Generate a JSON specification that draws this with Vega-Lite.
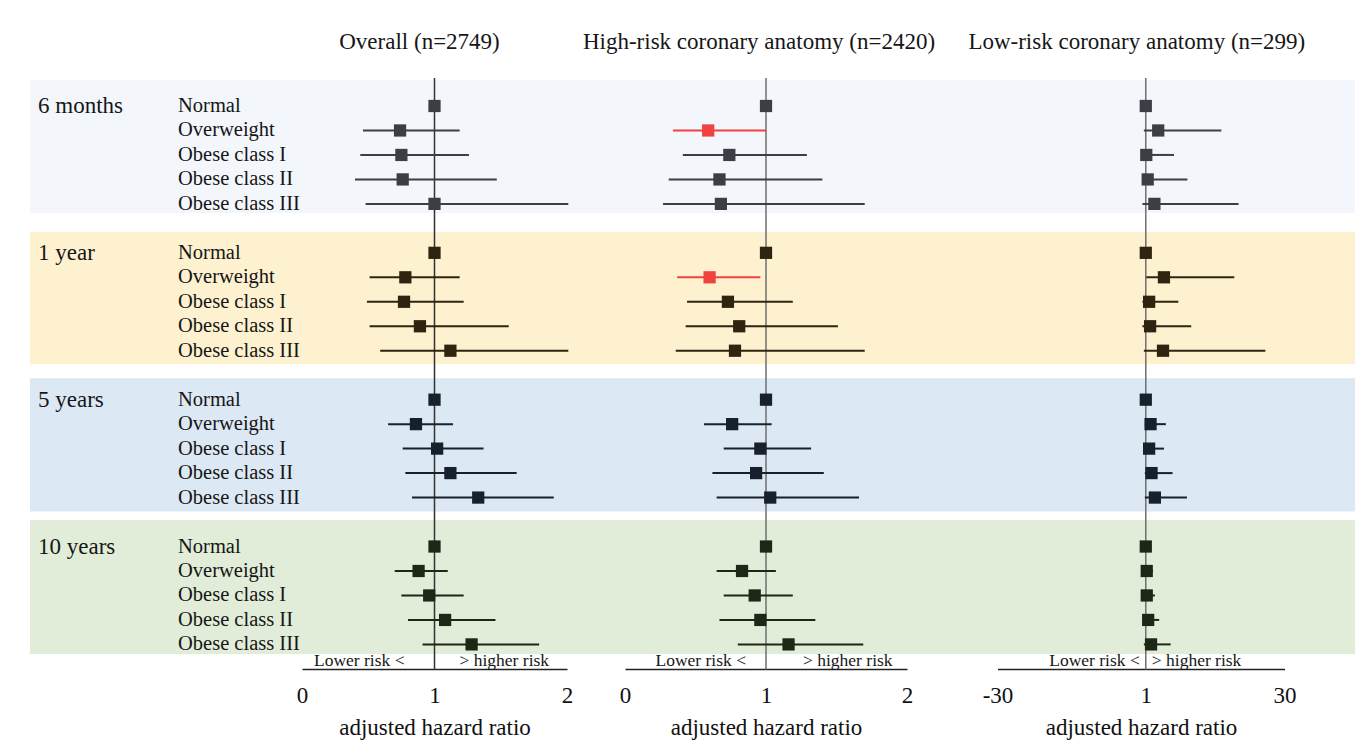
{
  "$schema": "https://vega.github.io/schema/vega-lite/v6.json",
  "width": 1325,
  "height": 669,
  "autosize": {"type": "none"},
  "padding": {"left": 30, "top": 0, "right": 6, "bottom": 84},
  "background": "white",
  "config": {"view": {"stroke": null}, "font": "Liberation Serif", "text": {"font": "Liberation Serif", "color": "#161616"}},
  "data": {"values": [
    {"panel": "Overall", "group": "6 months", "cat": "Normal", "hr": 1, "lo": 1, "hi": 1},
    {"panel": "Overall", "group": "6 months", "cat": "Overweight", "hr": 0.74, "lo": 0.46, "hi": 1.19},
    {"panel": "Overall", "group": "6 months", "cat": "Obese class I", "hr": 0.75, "lo": 0.44, "hi": 1.26},
    {"panel": "Overall", "group": "6 months", "cat": "Obese class II", "hr": 0.76, "lo": 0.40, "hi": 1.47},
    {"panel": "Overall", "group": "6 months", "cat": "Obese class III", "hr": 1.00, "lo": 0.48, "hi": 2.01},
    {"panel": "Overall", "group": "1 year", "cat": "Normal", "hr": 1, "lo": 1, "hi": 1},
    {"panel": "Overall", "group": "1 year", "cat": "Overweight", "hr": 0.78, "lo": 0.51, "hi": 1.19},
    {"panel": "Overall", "group": "1 year", "cat": "Obese class I", "hr": 0.77, "lo": 0.49, "hi": 1.22},
    {"panel": "Overall", "group": "1 year", "cat": "Obese class II", "hr": 0.89, "lo": 0.51, "hi": 1.56},
    {"panel": "Overall", "group": "1 year", "cat": "Obese class III", "hr": 1.12, "lo": 0.59, "hi": 2.01},
    {"panel": "Overall", "group": "5 years", "cat": "Normal", "hr": 1, "lo": 1, "hi": 1},
    {"panel": "Overall", "group": "5 years", "cat": "Overweight", "hr": 0.86, "lo": 0.65, "hi": 1.14},
    {"panel": "Overall", "group": "5 years", "cat": "Obese class I", "hr": 1.02, "lo": 0.76, "hi": 1.37},
    {"panel": "Overall", "group": "5 years", "cat": "Obese class II", "hr": 1.12, "lo": 0.78, "hi": 1.62},
    {"panel": "Overall", "group": "5 years", "cat": "Obese class III", "hr": 1.33, "lo": 0.83, "hi": 1.90},
    {"panel": "Overall", "group": "10 years", "cat": "Normal", "hr": 1, "lo": 1, "hi": 1},
    {"panel": "Overall", "group": "10 years", "cat": "Overweight", "hr": 0.88, "lo": 0.70, "hi": 1.10},
    {"panel": "Overall", "group": "10 years", "cat": "Obese class I", "hr": 0.96, "lo": 0.75, "hi": 1.22},
    {"panel": "Overall", "group": "10 years", "cat": "Obese class II", "hr": 1.08, "lo": 0.80, "hi": 1.46},
    {"panel": "Overall", "group": "10 years", "cat": "Obese class III", "hr": 1.28, "lo": 0.91, "hi": 1.79},
    {"panel": "High", "group": "6 months", "cat": "Normal", "hr": 1, "lo": 1, "hi": 1},
    {"panel": "High", "group": "6 months", "cat": "Overweight", "hr": 0.59, "lo": 0.34, "hi": 1.00, "sig": true},
    {"panel": "High", "group": "6 months", "cat": "Obese class I", "hr": 0.74, "lo": 0.41, "hi": 1.29},
    {"panel": "High", "group": "6 months", "cat": "Obese class II", "hr": 0.67, "lo": 0.31, "hi": 1.40},
    {"panel": "High", "group": "6 months", "cat": "Obese class III", "hr": 0.68, "lo": 0.27, "hi": 1.70},
    {"panel": "High", "group": "1 year", "cat": "Normal", "hr": 1, "lo": 1, "hi": 1},
    {"panel": "High", "group": "1 year", "cat": "Overweight", "hr": 0.60, "lo": 0.37, "hi": 0.96, "sig": true},
    {"panel": "High", "group": "1 year", "cat": "Obese class I", "hr": 0.73, "lo": 0.44, "hi": 1.19},
    {"panel": "High", "group": "1 year", "cat": "Obese class II", "hr": 0.81, "lo": 0.43, "hi": 1.51},
    {"panel": "High", "group": "1 year", "cat": "Obese class III", "hr": 0.78, "lo": 0.36, "hi": 1.70},
    {"panel": "High", "group": "5 years", "cat": "Normal", "hr": 1, "lo": 1, "hi": 1},
    {"panel": "High", "group": "5 years", "cat": "Overweight", "hr": 0.76, "lo": 0.56, "hi": 1.04},
    {"panel": "High", "group": "5 years", "cat": "Obese class I", "hr": 0.96, "lo": 0.70, "hi": 1.32},
    {"panel": "High", "group": "5 years", "cat": "Obese class II", "hr": 0.93, "lo": 0.62, "hi": 1.41},
    {"panel": "High", "group": "5 years", "cat": "Obese class III", "hr": 1.03, "lo": 0.65, "hi": 1.66},
    {"panel": "High", "group": "10 years", "cat": "Normal", "hr": 1, "lo": 1, "hi": 1},
    {"panel": "High", "group": "10 years", "cat": "Overweight", "hr": 0.83, "lo": 0.65, "hi": 1.07},
    {"panel": "High", "group": "10 years", "cat": "Obese class I", "hr": 0.92, "lo": 0.70, "hi": 1.19},
    {"panel": "High", "group": "10 years", "cat": "Obese class II", "hr": 0.96, "lo": 0.67, "hi": 1.35},
    {"panel": "High", "group": "10 years", "cat": "Obese class III", "hr": 1.16, "lo": 0.80, "hi": 1.69},
    {"panel": "Low", "group": "6 months", "cat": "Normal", "hr": 1, "lo": 1, "hi": 1},
    {"panel": "Low", "group": "6 months", "cat": "Overweight", "hr": 3.6, "lo": 0.6, "hi": 16.8},
    {"panel": "Low", "group": "6 months", "cat": "Obese class I", "hr": 1.1, "lo": 0.9, "hi": 6.9},
    {"panel": "Low", "group": "6 months", "cat": "Obese class II", "hr": 1.4, "lo": 0.3, "hi": 9.7},
    {"panel": "Low", "group": "6 months", "cat": "Obese class III", "hr": 2.8, "lo": 0.3, "hi": 20.4},
    {"panel": "Low", "group": "1 year", "cat": "Normal", "hr": 1, "lo": 1, "hi": 1},
    {"panel": "Low", "group": "1 year", "cat": "Overweight", "hr": 4.8, "lo": 1.1, "hi": 19.5},
    {"panel": "Low", "group": "1 year", "cat": "Obese class I", "hr": 1.7, "lo": 0.3, "hi": 7.8},
    {"panel": "Low", "group": "1 year", "cat": "Obese class II", "hr": 1.9, "lo": 0.3, "hi": 10.5},
    {"panel": "Low", "group": "1 year", "cat": "Obese class III", "hr": 4.6, "lo": 0.6, "hi": 26.0},
    {"panel": "Low", "group": "5 years", "cat": "Normal", "hr": 1, "lo": 1, "hi": 1},
    {"panel": "Low", "group": "5 years", "cat": "Overweight", "hr": 2.0, "lo": 0.8, "hi": 5.2},
    {"panel": "Low", "group": "5 years", "cat": "Obese class I", "hr": 1.7, "lo": 0.6, "hi": 4.8},
    {"panel": "Low", "group": "5 years", "cat": "Obese class II", "hr": 2.2, "lo": 0.8, "hi": 6.6},
    {"panel": "Low", "group": "5 years", "cat": "Obese class III", "hr": 2.9, "lo": 0.8, "hi": 9.6},
    {"panel": "Low", "group": "10 years", "cat": "Normal", "hr": 1, "lo": 1, "hi": 1},
    {"panel": "Low", "group": "10 years", "cat": "Overweight", "hr": 1.2, "lo": 0.9, "hi": 2.5},
    {"panel": "Low", "group": "10 years", "cat": "Obese class I", "hr": 1.2, "lo": 0.9, "hi": 2.9},
    {"panel": "Low", "group": "10 years", "cat": "Obese class II", "hr": 1.5, "lo": 0.9, "hi": 3.8},
    {"panel": "Low", "group": "10 years", "cat": "Obese class III", "hr": 2.1, "lo": 0.6, "hi": 6.2}
  ]},
  "transform": [{"calculate": "datum.group + '|' + datum.cat", "as": "row"}],
  "layer": [
    {
      "data": {"values": [
        {"group": "6 months", "first": "6 months|Normal", "last": "6 months|Obese class III"},
        {"group": "1 year", "first": "1 year|Normal", "last": "1 year|Obese class III"},
        {"group": "5 years", "first": "5 years|Normal", "last": "5 years|Obese class III"},
        {"group": "10 years", "first": "10 years|Normal", "last": "10 years|Obese class III"}
      ]},
      "encoding": {
        "y": {"field": "first", "type": "nominal", "axis": null, "scale": {"type": "point", "padding": 0, "range": [106, 644.4], "domain": ["6 months|Normal", "6 months|Overweight", "6 months|Obese class I", "6 months|Obese class II", "6 months|Obese class III", "gap1", "1 year|Normal", "1 year|Overweight", "1 year|Obese class I", "1 year|Obese class II", "1 year|Obese class III", "gap2", "5 years|Normal", "5 years|Overweight", "5 years|Obese class I", "5 years|Obese class II", "5 years|Obese class III", "gap3", "10 years|Normal", "10 years|Overweight", "10 years|Obese class I", "10 years|Obese class II", "10 years|Obese class III"]}},
        "y2": {"field": "last"},
        "color": {"field": "group", "type": "nominal", "legend": null, "scale": {"domain": ["6 months", "1 year", "5 years", "10 years"], "range": ["#f3f6fb", "#fef1cf", "#dde8f5", "#e1edd9"]}}
      },
      "layer": [
        {"transform": [{"filter": "datum.group === '6 months'"}], "mark": {"type": "rect", "yOffset": -26, "y2Offset": 9}},
        {"transform": [{"filter": "datum.group === '1 year'"}], "mark": {"type": "rect", "yOffset": -21, "y2Offset": 13.5}},
        {"transform": [{"filter": "datum.group === '5 years'"}], "mark": {"type": "rect", "yOffset": -21.5, "y2Offset": 14}},
        {"transform": [{"filter": "datum.group === '10 years'"}], "mark": {"type": "rect", "yOffset": -26.5, "y2Offset": 9.6}}
      ]
    },
    {
      "transform": [{"filter": "datum.panel === 'Overall'"}],
      "encoding": {
        "y": {"field": "row", "type": "nominal", "axis": null, "scale": {"type": "point", "padding": 0, "range": [106, 644.4], "domain": ["6 months|Normal", "6 months|Overweight", "6 months|Obese class I", "6 months|Obese class II", "6 months|Obese class III", "gap1", "1 year|Normal", "1 year|Overweight", "1 year|Obese class I", "1 year|Obese class II", "1 year|Obese class III", "gap2", "5 years|Normal", "5 years|Overweight", "5 years|Obese class I", "5 years|Obese class II", "5 years|Obese class III", "gap3", "10 years|Normal", "10 years|Overweight", "10 years|Obese class I", "10 years|Obese class II", "10 years|Obese class III"]}}
      },
      "layer": [
        {"mark": {"type": "text", "align": "left", "baseline": "middle", "fontSize": 20.5}, "encoding": {"x": {"datum": "cat", "type": "nominal", "axis": null, "scale": {"type": "point", "domain": ["time", "cat"], "range": [8, 148], "padding": 0}}, "text": {"field": "cat"}}},
        {"transform": [{"filter": "datum.cat === 'Normal'"}], "mark": {"type": "text", "align": "left", "baseline": "middle", "fontSize": 23, "dy": 0}, "encoding": {"x": {"datum": "time", "type": "nominal", "axis": null, "scale": {"type": "point", "domain": ["time", "cat"], "range": [8, 148], "padding": 0}}, "text": {"field": "group"}}}
      ]
    },
    {
      "encoding": {
        "x": {"type": "quantitative", "scale": {"domain": [0, 2], "range": [272, 537], "nice": false, "zero": false}, "axis": {"orient": "bottom", "values": [0, 1, 2], "labelExpr": "datum.value + ''", "title": "adjusted hazard ratio", "ticks": false, "grid": false, "domainColor": "#222", "domainWidth": 1.3, "labelFontSize": 23, "labelFont": "Liberation Serif", "labelColor": "#111", "labelPadding": 15, "labelFlush": false, "labelOverlap": false, "labelBound": false, "titleFont": "Liberation Serif", "titleFontSize": 23, "titleFontWeight": "normal", "titleColor": "#111", "titlePadding": 9}},
        "y": {"type": "nominal", "axis": null, "scale": {"type": "point", "padding": 0, "range": [106, 644.4], "domain": ["6 months|Normal", "6 months|Overweight", "6 months|Obese class I", "6 months|Obese class II", "6 months|Obese class III", "gap1", "1 year|Normal", "1 year|Overweight", "1 year|Obese class I", "1 year|Obese class II", "1 year|Obese class III", "gap2", "5 years|Normal", "5 years|Overweight", "5 years|Obese class I", "5 years|Obese class II", "5 years|Obese class III", "gap3", "10 years|Normal", "10 years|Overweight", "10 years|Obese class I", "10 years|Obese class II", "10 years|Obese class III"]}}
      },
      "layer": [
        {"data": {"values": [{}]}, "mark": {"type": "rule", "color": "#333333", "strokeWidth": 1.5, "yOffset": -28, "y2Offset": 25}, "encoding": {"x": {"datum": 1}, "y": {"datum": "6 months|Normal"}, "y2": {"datum": "10 years|Obese class III"}}},
        {"transform": [{"filter": "datum.panel === 'Overall'"}], "mark": {"type": "rule", "strokeWidth": 2}, "encoding": {"x": {"field": "lo"}, "x2": {"field": "hi"}, "y": {"field": "row"}, "color": {"field": "group", "type": "nominal", "legend": null, "condition": {"test": "datum.sig", "value": "#f0433f"}, "scale": {"domain": ["6 months", "1 year", "5 years", "10 years"], "range": ["#3b3e44", "#2e2410", "#17202d", "#1c2716"]}}}},
        {"transform": [{"filter": "datum.panel === 'Overall'"}], "mark": {"type": "square", "size": 150, "opacity": 1}, "encoding": {"x": {"field": "hr"}, "y": {"field": "row"}, "color": {"field": "group", "type": "nominal", "legend": null, "condition": {"test": "datum.sig", "value": "#f0433f"}, "scale": {"domain": ["6 months", "1 year", "5 years", "10 years"], "range": ["#3b3e44", "#2e2410", "#17202d", "#1c2716"]}}}},
        {"data": {"values": [{}]}, "mark": {"type": "text", "text": "Lower risk <", "align": "right", "baseline": "alphabetic", "fontSize": 17.5, "dx": -30, "dy": 21.5}, "encoding": {"x": {"datum": 1}, "y": {"datum": "10 years|Obese class III"}}},
        {"data": {"values": [{}]}, "mark": {"type": "text", "text": "> higher risk", "align": "left", "baseline": "alphabetic", "fontSize": 17.5, "dx": 25, "dy": 21.5}, "encoding": {"x": {"datum": 1}, "y": {"datum": "10 years|Obese class III"}}},
        {"data": {"values": [{}]}, "mark": {"type": "text", "text": "Overall (n=2749)", "align": "center", "baseline": "middle", "fontSize": 23, "dx": -15, "dy": -64}, "encoding": {"x": {"datum": 1}, "y": {"datum": "6 months|Normal"}}}
      ]
    },
    {
      "encoding": {
        "x": {"type": "quantitative", "scale": {"domain": [0, 2], "range": [595, 877], "nice": false, "zero": false}, "axis": {"orient": "bottom", "values": [0, 1, 2], "labelExpr": "datum.value + ''", "title": "adjusted hazard ratio", "ticks": false, "grid": false, "domainColor": "#222", "domainWidth": 1.3, "labelFontSize": 23, "labelFont": "Liberation Serif", "labelColor": "#111", "labelPadding": 15, "labelFlush": false, "labelOverlap": false, "labelBound": false, "titleFont": "Liberation Serif", "titleFontSize": 23, "titleFontWeight": "normal", "titleColor": "#111", "titlePadding": 9}},
        "y": {"type": "nominal", "axis": null, "scale": {"type": "point", "padding": 0, "range": [106, 644.4], "domain": ["6 months|Normal", "6 months|Overweight", "6 months|Obese class I", "6 months|Obese class II", "6 months|Obese class III", "gap1", "1 year|Normal", "1 year|Overweight", "1 year|Obese class I", "1 year|Obese class II", "1 year|Obese class III", "gap2", "5 years|Normal", "5 years|Overweight", "5 years|Obese class I", "5 years|Obese class II", "5 years|Obese class III", "gap3", "10 years|Normal", "10 years|Overweight", "10 years|Obese class I", "10 years|Obese class II", "10 years|Obese class III"]}}
      },
      "layer": [
        {"data": {"values": [{}]}, "mark": {"type": "rule", "color": "#6e6e6e", "strokeWidth": 1.5, "yOffset": -28, "y2Offset": 25}, "encoding": {"x": {"datum": 1}, "y": {"datum": "6 months|Normal"}, "y2": {"datum": "10 years|Obese class III"}}},
        {"transform": [{"filter": "datum.panel === 'High'"}], "mark": {"type": "rule", "strokeWidth": 2}, "encoding": {"x": {"field": "lo"}, "x2": {"field": "hi"}, "y": {"field": "row"}, "color": {"field": "group", "type": "nominal", "legend": null, "condition": {"test": "datum.sig", "value": "#f0433f"}, "scale": {"domain": ["6 months", "1 year", "5 years", "10 years"], "range": ["#3b3e44", "#2e2410", "#17202d", "#1c2716"]}}}},
        {"transform": [{"filter": "datum.panel === 'High'"}], "mark": {"type": "square", "size": 150, "opacity": 1}, "encoding": {"x": {"field": "hr"}, "y": {"field": "row"}, "color": {"field": "group", "type": "nominal", "legend": null, "condition": {"test": "datum.sig", "value": "#f0433f"}, "scale": {"domain": ["6 months", "1 year", "5 years", "10 years"], "range": ["#3b3e44", "#2e2410", "#17202d", "#1c2716"]}}}},
        {"data": {"values": [{}]}, "mark": {"type": "text", "text": "Lower risk <", "align": "right", "baseline": "alphabetic", "fontSize": 17.5, "dx": -20, "dy": 21.5}, "encoding": {"x": {"datum": 1}, "y": {"datum": "10 years|Obese class III"}}},
        {"data": {"values": [{}]}, "mark": {"type": "text", "text": "> higher risk", "align": "left", "baseline": "alphabetic", "fontSize": 17.5, "dx": 37, "dy": 21.5}, "encoding": {"x": {"datum": 1}, "y": {"datum": "10 years|Obese class III"}}},
        {"data": {"values": [{}]}, "mark": {"type": "text", "text": "High-risk coronary anatomy (n=2420)", "align": "center", "baseline": "middle", "fontSize": 23, "dx": -7, "dy": -64}, "encoding": {"x": {"datum": 1}, "y": {"datum": "6 months|Normal"}}}
      ]
    },
    {
      "encoding": {
        "x": {"type": "quantitative", "scale": {"domain": [-30, 30], "range": [967.5, 1254.5], "nice": false, "zero": false}, "axis": {"orient": "bottom", "values": [-30, 1, 30], "labelExpr": "datum.value + ''", "title": "adjusted hazard ratio", "ticks": false, "grid": false, "domainColor": "#222", "domainWidth": 1.3, "labelFontSize": 23, "labelFont": "Liberation Serif", "labelColor": "#111", "labelPadding": 15, "labelFlush": false, "labelOverlap": false, "labelBound": false, "titleFont": "Liberation Serif", "titleFontSize": 23, "titleFontWeight": "normal", "titleColor": "#111", "titlePadding": 9}},
        "y": {"type": "nominal", "axis": null, "scale": {"type": "point", "padding": 0, "range": [106, 644.4], "domain": ["6 months|Normal", "6 months|Overweight", "6 months|Obese class I", "6 months|Obese class II", "6 months|Obese class III", "gap1", "1 year|Normal", "1 year|Overweight", "1 year|Obese class I", "1 year|Obese class II", "1 year|Obese class III", "gap2", "5 years|Normal", "5 years|Overweight", "5 years|Obese class I", "5 years|Obese class II", "5 years|Obese class III", "gap3", "10 years|Normal", "10 years|Overweight", "10 years|Obese class I", "10 years|Obese class II", "10 years|Obese class III"]}}
      },
      "layer": [
        {"data": {"values": [{}]}, "mark": {"type": "rule", "color": "#6e6e6e", "strokeWidth": 1.5, "yOffset": -28, "y2Offset": 25}, "encoding": {"x": {"datum": 1}, "y": {"datum": "6 months|Normal"}, "y2": {"datum": "10 years|Obese class III"}}},
        {"transform": [{"filter": "datum.panel === 'Low'"}], "mark": {"type": "rule", "strokeWidth": 2}, "encoding": {"x": {"field": "lo"}, "x2": {"field": "hi"}, "y": {"field": "row"}, "color": {"field": "group", "type": "nominal", "legend": null, "condition": {"test": "datum.sig", "value": "#f0433f"}, "scale": {"domain": ["6 months", "1 year", "5 years", "10 years"], "range": ["#3b3e44", "#2e2410", "#17202d", "#1c2716"]}}}},
        {"transform": [{"filter": "datum.panel === 'Low'"}], "mark": {"type": "square", "size": 150, "opacity": 1}, "encoding": {"x": {"field": "hr"}, "y": {"field": "row"}, "color": {"field": "group", "type": "nominal", "legend": null, "condition": {"test": "datum.sig", "value": "#f0433f"}, "scale": {"domain": ["6 months", "1 year", "5 years", "10 years"], "range": ["#3b3e44", "#2e2410", "#17202d", "#1c2716"]}}}},
        {"data": {"values": [{}]}, "mark": {"type": "text", "text": "Lower risk <", "align": "right", "baseline": "alphabetic", "fontSize": 17.5, "dx": -6, "dy": 21.5}, "encoding": {"x": {"datum": 1}, "y": {"datum": "10 years|Obese class III"}}},
        {"data": {"values": [{}]}, "mark": {"type": "text", "text": "> higher risk", "align": "left", "baseline": "alphabetic", "fontSize": 17.5, "dx": 6, "dy": 21.5}, "encoding": {"x": {"datum": 1}, "y": {"datum": "10 years|Obese class III"}}},
        {"data": {"values": [{}]}, "mark": {"type": "text", "text": "Low-risk coronary anatomy (n=299)", "align": "center", "baseline": "middle", "fontSize": 23, "dx": -9, "dy": -64}, "encoding": {"x": {"datum": 1}, "y": {"datum": "6 months|Normal"}}}
      ]
    }
  ],
  "resolve": {"scale": {"x": "independent", "color": "independent"}, "axis": {"x": "independent"}}
}
